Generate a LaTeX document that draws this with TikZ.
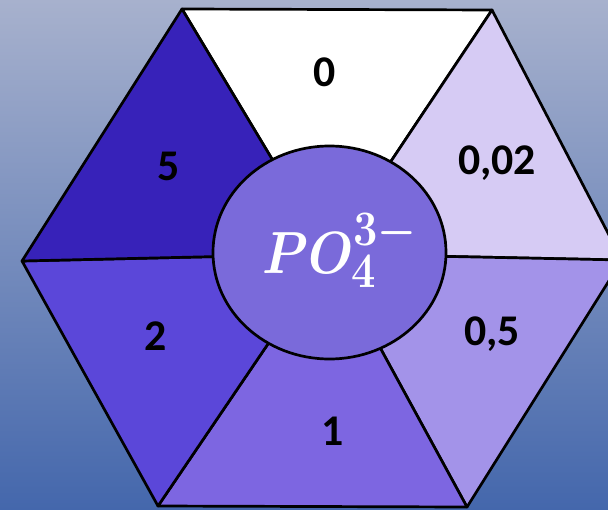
\documentclass[tikz,border=0pt]{standalone}
\usepackage{fontspec}
\setmainfont{Carlito}
\usepackage{graphicx}
\usetikzlibrary{shapes.geometric}
\usepackage{xcolor}

\definecolor{bgtop}{RGB}{167,177,205}
\definecolor{bgbot}{RGB}{68,103,172}
\definecolor{pzero}{RGB}{255,255,255}
\definecolor{ptwo}{RGB}{214,203,244}
\definecolor{pfive}{RGB}{163,147,233}
\definecolor{pone}{RGB}{125,102,225}
\definecolor{ptwom}{RGB}{91,71,217}
\definecolor{pfivem}{RGB}{55,34,185}
\definecolor{ioncol}{RGB}{122,106,218}

\begin{document}
\begin{tikzpicture}[x=1bp, y=-1bp,
  wedge/.style={draw=black, line width=2.7bp, line join=round},
  val/.style={font=\fontsize{44}{48}\selectfont\bfseries, anchor=base}]
\useasboundingbox (0,0) rectangle (608,510);
\clip (0,0) rectangle (608,510);
\shade[top color=bgtop, bottom color=bgbot] (0,0) rectangle (608,510);

% corners of the hexagon and its middle
\coordinate (tl) at (182,9);
\coordinate (tr) at (492,10);
\coordinate (r) at (622,260);
\coordinate (br) at (467,507);
\coordinate (bl) at (158,506);
\coordinate (l) at (22,261);
\coordinate (c) at (329,254);

\filldraw[wedge, fill=pzero] (tl) -- (tr) -- (c) -- cycle;
\filldraw[wedge, fill=ptwo] (tr) -- (r) -- (c) -- cycle;
\filldraw[wedge, fill=pfive] (r) -- (br) -- (c) -- cycle;
\filldraw[wedge, fill=pone] (br) -- (bl) -- (c) -- cycle;
\filldraw[wedge, fill=ptwom] (bl) -- (l) -- (c) -- cycle;
\filldraw[wedge, fill=pfivem] (l) -- (tl) -- (c) -- cycle;

\node[ellipse, draw=black, line width=2.7bp, fill=ioncol,
      minimum width=233bp, minimum height=213bp] (ion) at (329.5,252.5) {};
\node[text=white, anchor=base]
  (ionlabel) at (340,273) {\scalebox{2.1}[2.4]{\Huge\boldmath$PO_4^{3-}$}};

% values
\node[val] (vzero) at (325,87) {0};
\node[val] (vtwo) at (497,175) {0,02};
\node[val] (vfive) at (492,345) {0,5};
\node[val] (vone) at (333,445) {1};
\node[val] (vtwom) at (156,350) {2};
\node[val] (vfivem) at (169,181) {5};
\end{tikzpicture}
\end{document}
